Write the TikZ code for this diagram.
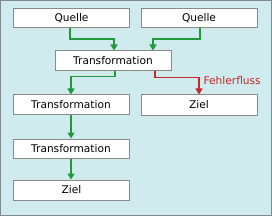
\documentclass[tikz,border=0pt]{standalone}
\usepackage{fontspec}
\setmainfont{DejaVu Sans}
\usetikzlibrary{arrows.meta}
\definecolor{bg}{HTML}{D0EBED}
\definecolor{frame}{HTML}{7F8A8C}
\definecolor{boxline}{HTML}{8A8A8A}
\definecolor{flowgreen}{HTML}{1E9A3C}
\definecolor{flowred}{HTML}{C82828}
\begin{document}
\begin{tikzpicture}[x=1pt,y=-1pt,
  box/.style={draw=boxline,fill=white,line width=1pt,minimum width=116pt,minimum height=19pt,inner sep=0pt,font=\fontsize{10.6pt}{12pt}\selectfont},
  flow/.style={draw=flowgreen,line width=1.5pt,-{Triangle[width=7pt,length=6pt]}},
  err/.style={draw=flowred,line width=1.5pt,-{Triangle[width=7pt,length=6pt]}}]
\path[use as bounding box,fill=bg,draw=frame,line width=1pt] (0.5,0.5) rectangle (271.5,215.5);
\node[box] (q1) at (71.5,18) {Quelle};
\node[box] (q2) at (199,18) {Quelle};
\node[box,minimum height=20pt] (t1) at (113,61) {Transformation};
\node[box] (t2) at (71,104.5) {Transformation};
\node[box,minimum height=20pt] (z1) at (199,105) {Ziel};
\node[box] (t3) at (71,148.5) {Transformation};
\node[box,minimum height=20pt] (z2) at (71.5,190) {Ziel};
\draw[flow] ([xshift=-1.5pt]q1.south) -- ++(0,11) -| ([xshift=1pt]t1.north);
\draw[flow] ([xshift=1pt]q2.south) -- ++(0,11) -| ([xshift=40pt]t1.north);
\draw[flow] ([xshift=2pt]t1.south) -- ++(0,5) -| (t2.north);
\draw[err] ([xshift=42pt]t1.south) -- ++(0,6) -| (z1.north);
\node[anchor=west,text=flowred,inner sep=0pt,font=\fontsize{10.6pt}{12pt}\selectfont] (lbl) at (203.5,80.5) {Fehlerfluss};
\draw[flow] (t2.south) -- (t3.north);
\draw[flow] (t3.south) -- (z2.north -| t3.south);
\end{tikzpicture}
\end{document}
